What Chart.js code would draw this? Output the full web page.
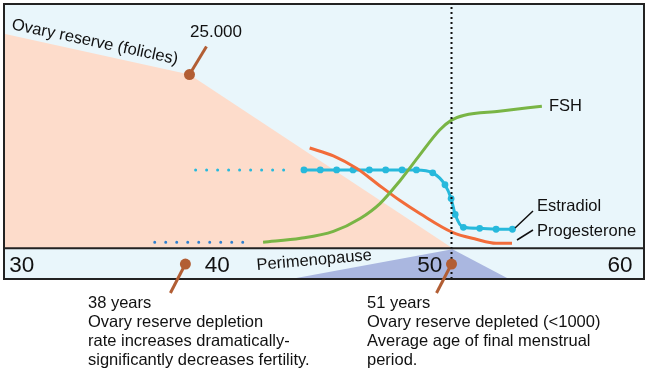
<!DOCTYPE html>
<html>
<head>
<meta charset="utf-8">
<script src="https://cdn.jsdelivr.net/npm/chart.js@4/dist/chart.umd.min.js"></script>
<style>
  html, body { margin: 0; padding: 0; background: #fff; }
  #wrap { width: 648px; height: 374px; }
</style>
</head>
<body>
<div id="wrap"><canvas id="chart-menopause" width="648" height="374"></canvas></div>
<script>
// age (years) on x, relative level on y (0 = bottom of upper panel)
const ovaryAge = [29.13, 38.2, 51.07];
const ovaryLevel = [88.2, 71.4, 0];

const estradiolAge = [43.8, 44.6, 45.4, 46.2, 47.0, 47.8, 48.6, 49.3, 50.1, 50.7, 51.0, 51.2, 51.6, 52.4, 53.2, 54.0];
const estradiolLevel = [32.2, 32.2, 32.2, 32.2, 32.2, 32.2, 32.2, 32.2, 31.0, 26.1, 20.4, 13.9, 8.6, 8.2, 7.8, 7.8];
const estradiolLeadAge = [38.5, 43.3];
const estradiolLeadLevel = [32.2, 32.2];

const fshAge = [41.8, 43.64, 45.24, 46.55, 47.52, 48.5, 49.47, 50.44, 51.02, 51.65, 53.35, 55.44];
const fshLevel = [2.45, 4.08, 6.94, 12.24, 18.37, 27.76, 38.37, 48.57, 52.65, 54.69, 56.33, 58.37];
const fshLeadAge = [36.5, 41.3];
const fshLeadLevel = [2.45, 2.45];

const progAge = [44.08, 45.24, 46.41, 47.38, 48.5, 49.47, 51.07, 52.23, 53.2, 53.98];
const progLevel = [41.2, 37.96, 32.65, 26.53, 19.59, 14.29, 6.53, 3.67, 2.04, 2.04];

const periAge = [43.16, 51.07, 53.83];
const periLevel = [-12.65, -0.4, -12.65];

const menopauseAge = 51.02;
const reserveAge = 38.2;
const depletionAge = 38;
const tickValues = [30, 40, 50, 60];
const tickLabels = ["30", "40", "50", "60"];

const yMin = -12.65;
const yMax = 100.4;

function pts(xs, ys) {
  return xs.map((v, i) => ({ x: v, y: ys[i] }));
}

const font = "Arial, 'Liberation Sans', sans-serif";
const brown = "#b25e34";

const decor = {
  id: "decor",
  beforeDatasetsDraw(chart) {
    const { ctx, chartArea: a } = chart;
    ctx.save();
    ctx.fillStyle = "#e9f6fb";
    ctx.fillRect(a.left, a.top, a.right - a.left, a.bottom - a.top);
    ctx.restore();
  },
  afterDatasetsDraw(chart) {
    const { ctx, chartArea: a, scales } = chart;
    const x = scales.x;
    const y = scales.y;
    ctx.save();

    // panel separator + frame
    const y0 = y.getPixelForValue(0);
    ctx.strokeStyle = "#222";
    ctx.lineWidth = 2;
    ctx.beginPath();
    ctx.moveTo(a.left, y0);
    ctx.lineTo(a.right, y0);
    ctx.stroke();
    ctx.strokeRect(a.left, a.top, a.right - a.left, a.bottom - a.top);

    // age labels in the bottom strip
    const nudge = [0, -9, -1, -15];
    ctx.fillStyle = "#111";
    ctx.font = "22.5px " + font;
    ctx.textAlign = "center";
    ctx.textBaseline = "alphabetic";
    tickValues.forEach((v, i) => {
      ctx.fillText(tickLabels[i], x.getPixelForValue(v) + nudge[i], 272);
    });

    // rotated labels
    ctx.textAlign = "left";
    ctx.font = "16.5px " + font;
    ctx.save();
    ctx.translate(11, 29);
    ctx.rotate((12 * Math.PI) / 180);
    ctx.fillText("Ovary reserve (folicles)", 0, 0);
    ctx.restore();

    ctx.save();
    ctx.translate(257, 270);
    ctx.rotate((-5 * Math.PI) / 180);
    ctx.fillText("Perimenopause", 0, 0);
    ctx.restore();

    // series labels
    ctx.textBaseline = "middle";
    ctx.fillText("FSH", 549, 106);
    ctx.fillText("Estradiol", 537, 206);
    ctx.fillText("Progesterone", 537, 231);
    ctx.textBaseline = "alphabetic";
    ctx.font = "17px " + font;
    ctx.fillText("25.000", 190, 37);

    ctx.strokeStyle = "#111";
    ctx.lineWidth = 1.5;
    ctx.beginPath();
    ctx.moveTo(515, 228);
    ctx.lineTo(533, 211);
    ctx.moveTo(517, 240);
    ctx.lineTo(533, 230);
    ctx.stroke();

    // brown markers with leaders
    const marks = [
      [x.getPixelForValue(reserveAge), y.getPixelForValue(71.4), 17, -28],
      [x.getPixelForValue(depletionAge), y.getPixelForValue(-6.5), -15, 29],
      [x.getPixelForValue(menopauseAge), y.getPixelForValue(-6.5), -15, 29],
    ];
    ctx.strokeStyle = brown;
    ctx.fillStyle = brown;
    ctx.lineWidth = 3;
    marks.forEach((m) => {
      ctx.beginPath();
      ctx.moveTo(m[0], m[1]);
      ctx.lineTo(m[0] + m[2], m[1] + m[3]);
      ctx.stroke();
      ctx.beginPath();
      ctx.arc(m[0], m[1], 5.5, 0, Math.PI * 2);
      ctx.fill();
    });

    // notes under the chart
    ctx.fillStyle = "#111";
    ctx.font = "16.5px " + font;
    const left = [
      "38 years",
      "Ovary reserve depletion",
      "rate increases dramatically-",
      "significantly decreases fertility.",
    ];
    const right = [
      "51 years",
      "Ovary reserve depleted (<1000)",
      "Average age of final menstrual",
      "period.",
    ];
    const base = [308, 327, 346, 365];
    left.forEach((t, i) => ctx.fillText(t, 88, base[i]));
    right.forEach((t, i) => ctx.fillText(t, 367, base[i]));

    ctx.restore();
  },
};

const ctx = document.getElementById("chart-menopause");
const chart = new Chart(ctx, {
  type: "line",
  data: {
    datasets: [
      {
        label: "menopause",
        data: pts([menopauseAge, menopauseAge], [yMin, yMax]),
        borderColor: "#111",
        borderWidth: 2,
        borderDash: [2, 3],
        pointRadius: 0,
      },
      {
        label: "FSH",
        data: pts(fshAge, fshLevel),
        borderColor: "#79b545",
        borderWidth: 3,
        pointRadius: 0,
        cubicInterpolationMode: "monotone",
      },
      {
        label: "Progesterone",
        data: pts(progAge, progLevel),
        borderColor: "#f26c3a",
        borderWidth: 3,
        pointRadius: 0,
        cubicInterpolationMode: "monotone",
      },
      {
        label: "Estradiol",
        data: pts(estradiolAge, estradiolLevel),
        borderColor: "#27b9dc",
        backgroundColor: "#27b9dc",
        borderWidth: 3,
        pointRadius: 3.4,
        pointBorderWidth: 0,
        cubicInterpolationMode: "monotone",
      },
      {
        label: "Estradiol lead",
        data: pts(estradiolLeadAge, estradiolLeadLevel),
        borderColor: "#27b9dc",
        borderWidth: 3,
        borderDash: [0, 11],
        borderCapStyle: "round",
        pointRadius: 0,
      },
      {
        label: "FSH lead",
        data: pts(fshLeadAge, fshLeadLevel),
        borderColor: "#2f7fd0",
        borderWidth: 3,
        borderDash: [0, 11],
        borderCapStyle: "round",
        pointRadius: 0,
      },
      {
        label: "Perimenopause",
        data: pts(periAge, periLevel),
        borderWidth: 0,
        borderColor: "rgba(0,0,0,0)",
        backgroundColor: "#aab7e0",
        pointRadius: 0,
        fill: { value: yMin },
      },
      {
        label: "Ovary reserve",
        data: pts(ovaryAge, ovaryLevel),
        borderWidth: 0,
        borderColor: "rgba(0,0,0,0)",
        backgroundColor: "#fddccb",
        pointRadius: 0,
        fill: "origin",
      },
    ],
  },
  options: {
    responsive: false,
    animation: false,
    events: [],
    layout: { padding: { left: 1, top: 2, right: 2, bottom: 95 } },
    plugins: { legend: { display: false }, tooltip: { enabled: false } },
    scales: {
      x: { type: "linear", min: 29.126, max: 60.437, display: false },
      y: { min: yMin, max: yMax, display: false },
    },
  },
  plugins: [decor],
});
</script>
</body>
</html>
